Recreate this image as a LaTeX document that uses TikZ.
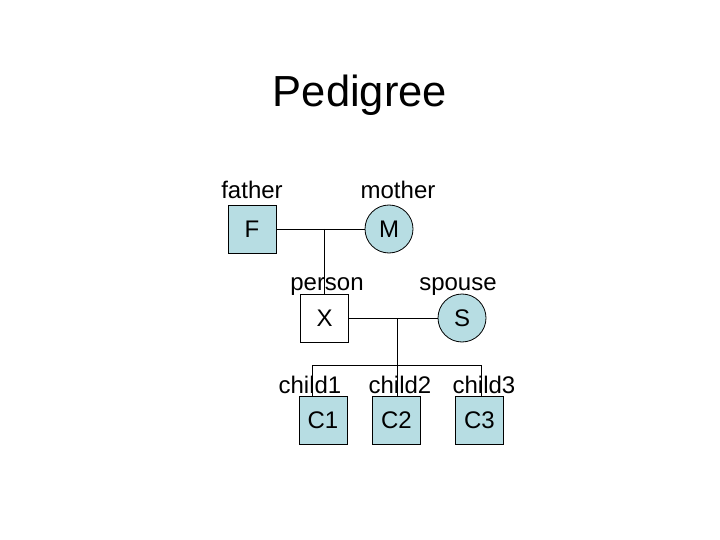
\documentclass[tikz,border=0pt]{standalone}
\usepackage{fontspec}
\setmainfont{Liberation Sans}
\usetikzlibrary{positioning,calc}
\definecolor{pedfill}{RGB}{183,221,227}
\tikzset{
malenode/.style={rectangle, draw=black, fill=pedfill, minimum size=48pt, inner sep=0pt},
femalenode/.style={circle, draw=black, fill=pedfill, minimum size=48pt, inner sep=0pt},
personnode/.style={rectangle, draw=black, fill=white, minimum size=48pt, inner sep=0pt},
namenode/.style={anchor=base, inner sep=0pt},
every node/.append style={font=\fontsize{24}{28}\selectfont},
}
\begin{document}
\begin{tikzpicture}[x=1pt, y=-1pt, line width=0.8pt]
\useasboundingbox (0,0) rectangle (720,540);

\node[font=\fontsize{43.5}{50}\selectfont] (title) at(360,95) {Pedigree};

%parents
\node[malenode] (father) at(252,229) {F};
\node[femalenode] (mother) at(389,229) {M};
\node[namenode] (fatherlbl) at(252,199) {father};
\node[namenode] (motherlbl) at(398,199) {mother};

%couple
\node[personnode] (person) at(324.5,318) {X};
\node[femalenode] (spouse) at(462,318) {S};
\node[namenode] (personlbl) at(327,290) {person};
\node[namenode] (spouselbl) at(458,290) {spouse};

%children
\node[malenode] (child1) at(323,420) {C1};
\node[malenode] (child2) at(396.5,420) {C2};
\node[malenode] (child3) at(479.5,420) {C3};
\node[namenode] (child1lbl) at(310,393) {child1};
\node[namenode] (child2lbl) at(400,393) {child2};
\node[namenode] (child3lbl) at(484,393) {child3};

\coordinate (parentsjoin) at(324.5,229);
\coordinate (couplejoin) at(397,318);
\coordinate (sibleft) at(312,365);
\coordinate (sibmid) at(397,365);
\coordinate (sibright) at(481,365);

\draw (father) -- (mother) ;
\draw (parentsjoin) -- (person.north) ;
\draw (person) -- (spouse) ;
\draw (couplejoin) -- (sibmid) ;
\draw (sibleft) -- (sibright) ;
\draw (sibleft) -- (sibleft |- child1.north) ;
\draw (sibmid) -- (sibmid |- child2.north) ;
\draw (sibright) -- (sibright |- child3.north) ;
\end{tikzpicture}
\end{document}
